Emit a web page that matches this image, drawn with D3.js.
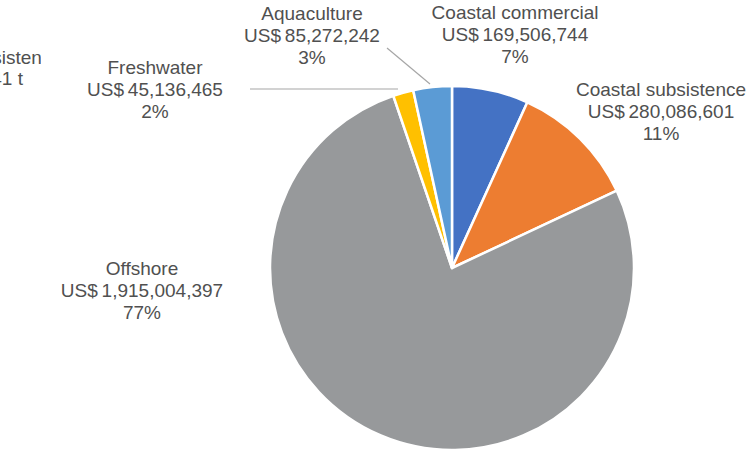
<!DOCTYPE html>
<html>
<head>
<meta charset="utf-8">
<script src="https://cdn.jsdelivr.net/npm/d3@7"></script>
<style>
  html, body { margin: 0; padding: 0; background: #fff; }
  svg { display: block; }
  text { font-family: "Liberation Sans", Arial, sans-serif; fill: #505050; }
</style>
</head>
<body>
<svg id="chart" width="753" height="451"></svg>
<script>
// Value of fisheries production by sector (US$)
const sectors = ["Coastal commercial", "Coastal subsistence", "Offshore", "Freshwater", "Aquaculture"];
const values  = [169506744, 280086601, 1915004397, 45136465, 85272242];
const colors  = ["#4472C4", "#ED7D31", "#97999B", "#FFC000", "#5B9BD5"];

// Label anchor points (centre of the first line) and optional leader lines
const labelPos = [
  { x: 515, y: 12 },
  { x: 661, y: 89 },
  { x: 142, y: 268 },
  { x: 155, y: 67 },
  { x: 312, y: 13 }
];
const leaders = [null, null, null,
  { x1: 250, y1: 89, x2: 398, y2: 89 },
  { x1: 387, y1: 48, x2: 430, y2: 84 }];

const svg = d3.select("#chart");
const cx = 452, cy = 268, radius = 182;
const total = d3.sum(values);

const pie = d3.pie().sort(null).value(d => d)(values);
const arc = d3.arc().innerRadius(0).outerRadius(radius);

const g = svg.append("g").attr("transform", `translate(${cx},${cy})`);
g.selectAll("path")
  .data(pie)
  .join("path")
  .attr("d", arc)
  .attr("fill", (d, i) => colors[i])
  .attr("stroke", "#fff")
  .attr("stroke-width", 2.5)
  .attr("stroke-linejoin", "round");

// Leader lines
svg.selectAll("line.leader")
  .data(leaders.filter(d => d))
  .join("line")
  .attr("class", "leader")
  .attr("x1", d => d.x1).attr("y1", d => d.y1)
  .attr("x2", d => d.x2).attr("y2", d => d.y2)
  .attr("stroke", "#a6a6a6")
  .attr("stroke-width", 1.2);

const money = d3.format(",");
const pct = d3.format(".0%");

const labels = svg.selectAll("g.label")
  .data(sectors)
  .join("g")
  .attr("class", "label")
  .attr("transform", (d, i) => `translate(${labelPos[i].x},${labelPos[i].y})`);

labels.each(function (name, i) {
  const lines = [name, "US$\u2009" + money(values[i]), pct(values[i] / total)];
  d3.select(this).selectAll("text")
    .data(lines)
    .join("text")
    .attr("text-anchor", "middle")
    .attr("dominant-baseline", "central")
    .attr("y", (d, k) => k * 22)
    .attr("font-size", 19)
    .text(d => d);
});

// Neighbouring panel's label, clipped at the panel edge
svg.append("clipPath").attr("id", "edge")
  .append("rect").attr("x", 0).attr("y", 0).attr("width", 41).attr("height", 451);
const side = svg.append("g").attr("clip-path", "url(#edge)");
side.append("text")
  .attr("x", 62).attr("y", 57)
  .attr("text-anchor", "end")
  .attr("dominant-baseline", "central")
  .attr("font-size", 19)
  .text("Coastal subsistence");
side.append("text")
  .attr("x", 23).attr("y", 78)
  .attr("text-anchor", "end")
  .attr("dominant-baseline", "central")
  .attr("font-size", 19)
  .text("2,341 t");
</script>
</body>
</html>
